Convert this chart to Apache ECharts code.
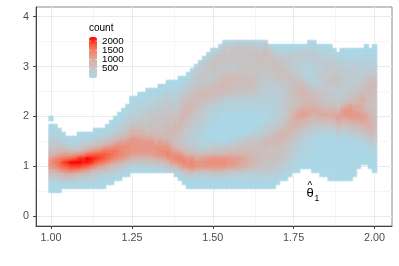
<!DOCTYPE html>
<html><head><meta charset="utf-8">
<style>html,body{margin:0;padding:0;background:#fff}#c{width:399px;height:266px}</style>
<script src="https://cdn.jsdelivr.net/npm/echarts@6/dist/echarts.min.js"></script>
</head><body><div id="c"></div>
<script>
// Estimated counts. One string per theta column, bottom to top.
// Each char is count/100 in base 36; '.' means an empty bin.
var xFirst = 1, xStep = 0.0125, yFirst = 0.52, yStep = 0.08;
var countColumns = [
"001369cdb86432100.0","00136adfd96432100","00147bfgea753210",".0158dhjfb74210",
".0159eikgb7310",".0159fjmhb6210",".0148ejmic6210",".0137djmkd73100",
".0137cilke84210",".0126bhlmga5210",".01259fklhb6310",".01248dikic74210",
".00137bgjid95210",".00126afiifa6310","..01259dghfb74210","..01247bfgfc853100",
"...0136adffda642100","...01359ceedb8532100","....0248bdddb96432100","....0136acddca75432100",
".....0259bcccb9864321100",".....0258bcccb9864321100",".....0258bcccb98654321100",".....0258bccca97544321100",
".....0258bccca865544321100",".....0258bccca865554321100",".....0369ccca9765554332100",".....036acdcb97655554332100",
".....147addca87665544332100",".....259cedca877766554432100",".....37bddb98778765544321100","....048ceda76678876544321100",
"...015adec9655567887655432100","..0137ceda7544455678876543210",".00259ddc964334455678876543210",".0014adec96433334455678 76543320".replace(" ",""),
".00138cca74221223344567776544431",".00138ccb742111223344567765444431",".00138ccb7421001122334577764444431",".00138cdc84210001122335677654455431",
".00149cdc853100001122346776544555420",".00149cdc853100000112235777654455542",".00149cdc8531000000112346777654555531",".00148cdc964100000001"+"12357777654555531",
".00137bcc964100000001"+"12357777644555431",".00137bcb965310000001"+"12356677644555542",".00136abb975310000001"+"12346677754555542",".00136aab975420000001"+"12346667655555542",
".001259aa876421000000"+"11245676555555542",".0012489987"+"6531000001"+"12346676555555542",".0012478876"+"6542100001"+"12345665555556542",".0012467776"+"6542100001"+"12234455555566531",
".0012456666"+"6653210011"+"12223444555665431",".00124556667764321001122233344455 67653".replace(" ",""),".00124556656775432111222233344 5566542".replace(" ",""),".00123455656776432222222233445 6665420".replace(" ",""),
"..01234556567876433222223334566654310","...01234556678875433333333345 66554310".replace(" ",""),"...0012344556788765444444444565544310","....012233445678887655555555654444310",
".....0112233456789997656666654 4333310".replace(" ",""),".....0011122345689aa97667776543333310","......001111234578aba8778876432233320","......0001111234689ba9888864211223321",
"......0000011123578aa98776421111233210",".....000000001134689a97765321122233210",".....00000000012468aa8765432233333210","....000000000012468a97655433443332210",
"....000000000012468a87554444444433210","...0000000000012469a97544445544433210","...0000000000012479a9754434555443210","...000000000013579ba754334455433210",
"...000000000001358abb864333444432210","...000000000012368acca75433333332100","...000000000012469bccb86543333322100","....00000000113579bcba87544333332100",
"......000000123579bcaa98654333222100",".......0000112468abba99a865433222100",".......0000123579aaa87777765543321100","......000012357899987666777753321100",
".....0000011245677765555567764 3221000".replace(" ","")
];
var xTicks = [1, 1.25, 1.5, 1.75, 2];
var xMinor = [1.125, 1.375, 1.625, 1.875];
var yTicks = [0, 1, 2, 3, 4];
var yMinor = [0.5, 1.5, 2.5, 3.5];
var legendLabels = ["2000", "1500", "1000", "500"];
var legendValues = [2000, 1500, 1000, 500];
var legendMax = 2220;

var cells = [];
countColumns.forEach(function (col, i) {
  for (var k = 0; k < col.length; k++) {
    if (col[k] !== ".") cells.push([xFirst + i * xStep, yFirst + k * yStep, parseInt(col[k], 36) * 100]);
  }
});
var cellsReversed = cells.slice().reverse();
var font = '"Liberation Sans", Arial, sans-serif';
function gridMarks(vals, key, w, color) {
  return vals.map(function (v) { var o = {}; o[key] = v; o.lineStyle = {width: w, color: color, type: "solid"}; return o; });
}
var barTop = 37, barH = 41, barLeft = 89, barW = 8;
var g = [
  {type: "text", left: 89, top: 23, z: 20, style: {text: "count", font: "10px " + font, fill: "#000"}},
  {type: "text", left: 306.5, top: 187, z: 20, style: {text: "θ", font: "13px " + font, fill: "#000"}},
  {type: "text", left: 307.5, top: 181, z: 20, style: {text: "^", font: "10px " + font, fill: "#000"}},
  {type: "text", left: 314.5, top: 194, z: 20, style: {text: "1", font: "8.5px " + font, fill: "#000"}}
];
legendValues.forEach(function (v, i) {
  var y = barTop + barH * (1 - v / legendMax);
  g.push({type: "text", left: 102, top: y - 5, z: 20, style: {text: legendLabels[i], font: "9.75px " + font, fill: "#000"}});
  g.push({type: "line", z: 20, shape: {x1: barLeft, x2: barLeft + 1.6, y1: y, y2: y}, style: {stroke: "#fff", lineWidth: 0.6}});
  g.push({type: "line", z: 20, shape: {x1: barLeft + barW - 1.6, x2: barLeft + barW, y1: y, y2: y}, style: {stroke: "#fff", lineWidth: 0.6}});
});
var chart = echarts.init(document.getElementById("c"), null, {renderer: "canvas"});
chart.setOption({
  animation: false,
  backgroundColor: "#fff",
  textStyle: {fontFamily: font},
  grid: {left: 36, right: 7, top: 7, bottom: 40, show: true, borderColor: "#8a8a8a", borderWidth: 1, backgroundColor: "#fff"},
  xAxis: {
    type: "value", min: 0.9536, max: 2.0541,
    axisLine: {show: true, onZero: false, lineStyle: {color: "#444", width: 1}},
    axisTick: {show: true, customValues: xTicks, length: 3, lineStyle: {color: "#444"}},
    axisLabel: {customValues: xTicks, color: "#4d4d4d", fontSize: 10.8, margin: 7, fontFamily: font, formatter: function (v) { return v.toFixed(2); }},
    splitLine: {show: false}
  },
  yAxis: {
    type: "value", min: -0.194, max: 4.194,
    axisLine: {show: true, onZero: false, lineStyle: {color: "#444", width: 1}},
    axisTick: {show: true, customValues: yTicks, length: 3, lineStyle: {color: "#444"}},
    axisLabel: {customValues: yTicks, color: "#4d4d4d", fontSize: 10.8, margin: 7, fontFamily: font},
    splitLine: {show: false}
  },
  visualMap: {
    type: "continuous", min: 0, max: legendMax, dimension: 2, seriesIndex: [1, 2, 3],
    left: barLeft, top: barTop, itemWidth: barW, itemHeight: barH, text: ["", ""], showLabel: false,
    calculable: false, hoverLink: false, padding: 0, realtime: false,
    inRange: {color: ["#ADD8E6", "#C6C6C9", "#D7B4AD", "#EE8D77", "#FA6042", "#FF0000"]}
  },
  series: [
    {type: "line", data: [], z: 1, silent: true, markLine: {z: 0, silent: true, symbol: "none", animation: false, label: {show: false},
      data: [].concat(gridMarks(xMinor, "xAxis", 0.6, "#f0f0f0"), gridMarks(yMinor, "yAxis", 0.6, "#f0f0f0"),
                      gridMarks(xTicks, "xAxis", 1, "#ebebeb"), gridMarks(yTicks, "yAxis", 1, "#ebebeb"))}},
    {type: "scatter", data: cells, symbol: "rect", symbolSize: [4.6, 4.5], z: 2, silent: true, large: false,
     itemStyle: {opacity: 1}, emphasis: {disabled: true}},
    {type: "scatter", data: cells, symbol: "rect", symbolSize: [6, 6], z: 3, silent: true, large: false,
     itemStyle: {opacity: 0.25}, emphasis: {disabled: true}},
    {type: "scatter", data: cellsReversed, symbol: "rect", symbolSize: [6, 6], z: 4, silent: true, large: false,
     itemStyle: {opacity: 0.25}, emphasis: {disabled: true}}
  ],
  graphic: g
});
</script></body></html>
